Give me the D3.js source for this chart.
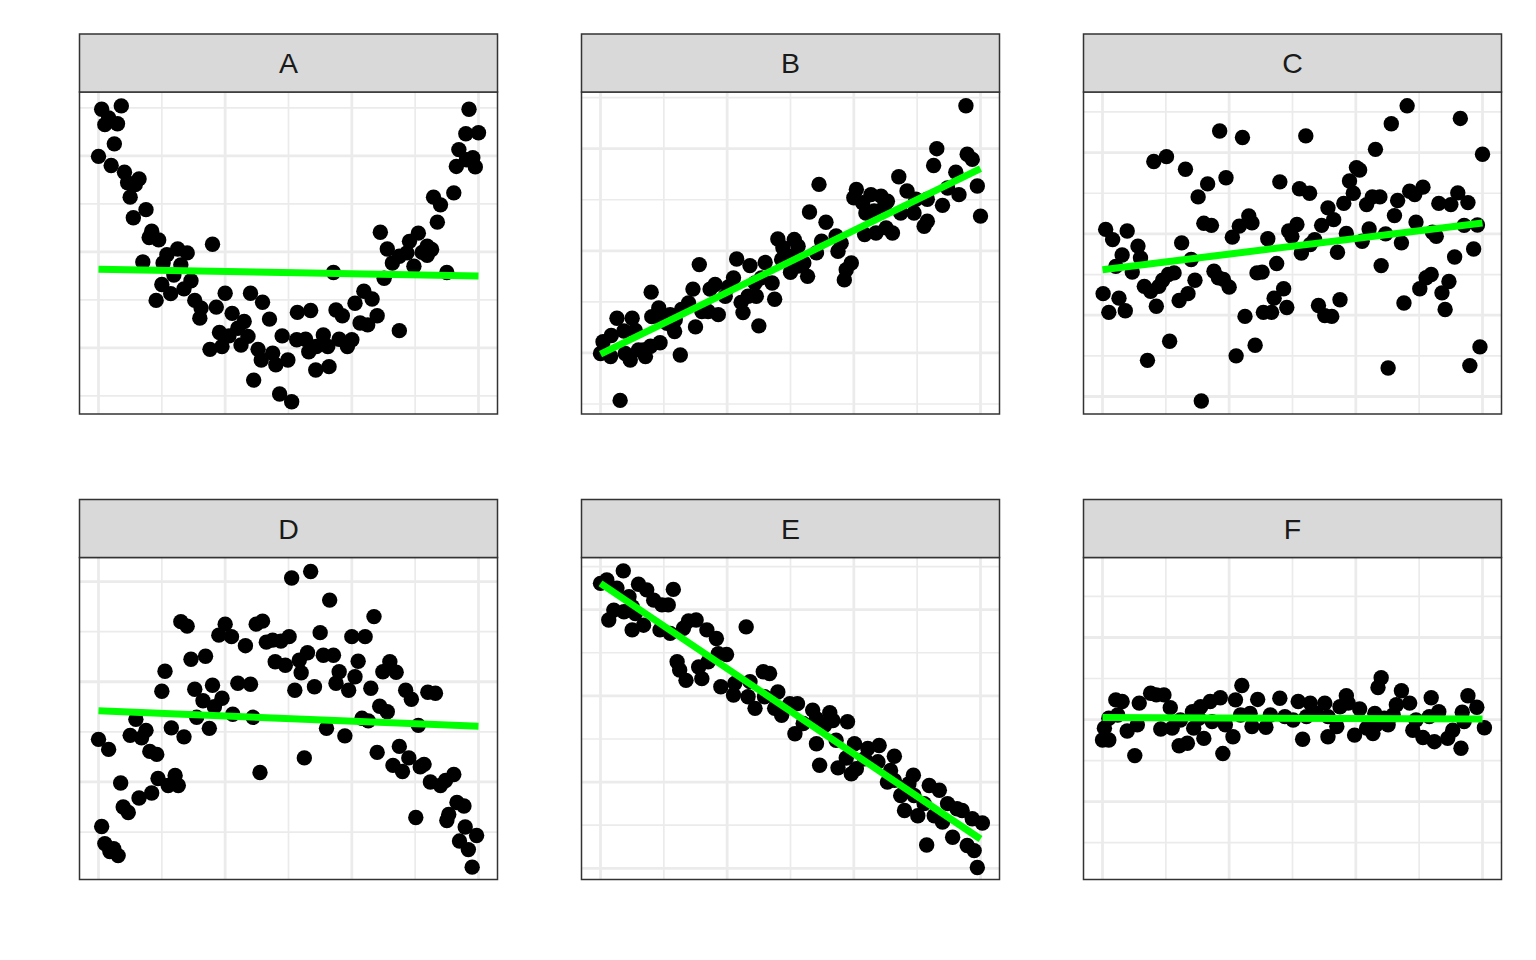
<!DOCTYPE html>
<html><head><meta charset="utf-8">
<script src="https://cdn.jsdelivr.net/npm/d3@7/dist/d3.min.js"></script>
<style>html,body{margin:0;padding:0;background:#fff}svg{display:block}</style>
</head><body>
<svg id="chart" width="1536" height="960"></svg>
<script>
// ---------- data ----------
const panelNames = ["A","B","C","D","E","F"];

const ptsA = [[0.05,5.97],[0.36,6.04],[0.16,5.79],[0.10,5.65],[0.30,5.67],[0.25,5.25],[0.00,4.99],[0.20,4.80],[0.41,4.66],[0.64,4.52],
[0.46,4.44],[0.58,4.40],[0.50,4.14],[0.75,3.88],[0.55,3.71],[0.84,3.43],[0.80,3.30],[0.95,3.25],[1.80,3.16],[1.25,3.06],
[1.40,2.98],[1.08,2.94],[0.70,2.79],[1.02,2.77],[1.30,2.73],[1.19,2.52],[1.46,2.40],[1.00,2.32],[1.35,2.23],[1.14,2.13],
[0.91,1.99],[1.52,1.99],[1.62,1.83],[1.86,1.85],[1.60,1.62],[2.00,2.14],[2.40,2.14],[2.59,1.95],[2.11,1.72],[2.30,1.55],
[2.70,1.60],[1.91,1.32],[2.20,1.41],[2.36,1.24],[2.06,1.25],[1.76,0.97],[1.95,1.03],[2.25,1.06],[2.52,0.97],[2.57,0.75],
[2.75,0.89],[2.90,1.25],[2.99,0.75],[2.80,0.65],[2.45,0.33],[2.86,0.04],[3.05,-0.12],[3.14,1.74],[3.35,1.78],[3.13,1.17],
[3.27,1.18],[3.32,0.92],[3.44,1.03],[3.43,0.54],[3.64,0.61],[3.55,1.27],[3.62,1.03],[3.75,1.79],[3.85,1.67],[3.80,1.18],
[3.93,1.03],[4.00,1.17],[3.71,2.57],[4.05,1.93],[4.19,2.18],[4.32,2.02],[4.40,1.67],[4.13,1.52],[4.25,1.48],[4.75,1.36],
[4.45,3.41],[4.56,3.06],[4.51,2.45],[4.64,2.77],[4.87,2.98],[4.91,3.22],[5.05,3.39],[4.98,2.70],[5.19,3.12],[5.26,3.05],
[5.19,2.93],[5.11,2.99],[5.50,2.57],[5.35,3.62],[5.40,3.98],[5.29,4.14],[5.61,4.23],[5.69,5.13],[5.65,4.78],[5.81,4.92],
[5.91,4.96],[5.95,4.77],[5.80,5.46],[6.00,5.48],[5.85,5.97],[4.75,2.91]];

const ptsB = [[5.77,5.84],[5.31,5.00],[5.26,4.67],[5.79,4.89],[5.87,4.79],[5.61,4.54],[5.48,4.23],[5.66,4.10],[5.95,4.27],[6.00,3.68],
[4.71,4.45],[4.84,4.17],[4.98,4.01],[5.40,3.89],[5.16,4.01],[4.74,3.74],[4.95,3.74],[5.11,3.48],[5.16,3.58],[4.61,3.35],
[4.43,4.07],[4.27,4.10],[4.04,4.20],[4.00,4.04],[4.14,3.94],[4.19,3.74],[4.32,3.78],[4.48,3.87],[4.53,3.97],[4.17,3.32],
[4.35,3.35],[4.51,3.45],[3.45,4.30],[3.30,3.76],[3.56,3.56],[3.72,3.29],[3.49,3.19],[3.80,3.15],[3.75,2.99],[3.41,2.96],
[3.96,2.76],[3.88,2.63],[3.85,2.43],[2.80,3.23],[3.06,3.22],[2.88,3.06],[3.12,3.09],[3.01,2.89],[3.21,2.76],[3.27,2.50],
[3.00,2.58],[2.86,2.83],[3.12,2.70],[2.60,2.77],[2.36,2.71],[2.15,2.84],[2.71,2.37],[2.54,2.47],[2.44,2.37],[2.75,2.05],
[2.33,2.11],[2.46,2.11],[2.22,1.99],[2.25,1.79],[2.50,1.53],[2.10,2.47],[2.02,2.29],[1.97,2.11],[1.81,2.34],[1.73,2.25],
[1.56,2.73],[1.46,2.25],[1.39,1.98],[1.60,1.81],[1.86,1.75],[1.70,1.81],[1.50,1.51],[1.28,1.85],[1.18,1.65],[0.92,1.88],
[0.81,1.71],[0.80,2.19],[0.97,1.65],[1.10,1.75],[1.17,1.42],[1.05,1.58],[0.50,1.68],[0.26,1.68],[0.37,1.43],[0.55,1.44],
[0.17,1.34],[0.04,1.22],[0.68,1.06],[0.79,1.13],[0.94,1.20],[0.60,1.06],[0.39,0.99],[0.00,0.99],[0.16,0.93],[0.47,0.86],
[0.71,0.93],[1.26,0.96],[0.31,0.07]];

const ptsC = [[4.81,7.15],[4.56,6.71],[5.65,6.84],[4.31,6.08],[6.00,5.96],[1.85,6.53],[2.21,6.37],[3.21,6.41],[0.81,5.78],[1.01,5.90],
[1.31,5.59],[1.66,5.23],[1.95,5.38],[1.51,4.91],[2.80,5.28],[3.11,5.11],[3.27,5.00],[4.01,5.63],[3.90,5.30],[3.96,5.00],
[4.06,5.57],[3.81,4.75],[3.56,4.64],[4.17,4.72],[4.26,4.91],[4.38,4.91],[4.66,4.82],[4.61,4.45],[4.85,5.05],[4.93,4.97],
[5.06,5.15],[5.31,4.75],[5.61,5.01],[5.50,4.72],[5.77,4.77],[4.95,4.29],[5.21,4.04],[5.27,3.94],[5.71,4.21],[5.92,4.22],
[5.86,3.63],[5.56,3.43],[4.47,4.00],[4.72,3.78],[4.21,4.12],[4.10,3.82],[3.85,4.01],[3.65,4.35],[3.46,4.21],[3.35,3.86],
[3.28,3.74],[3.71,3.55],[4.40,3.22],[3.14,3.53],[3.07,4.23],[2.94,4.07],[2.99,3.94],[2.31,4.44],[2.36,4.27],[2.16,4.19],
[2.05,3.92],[1.60,4.26],[1.72,4.21],[2.61,3.88],[2.75,3.27],[2.44,3.04],[2.52,3.06],[1.25,3.78],[1.40,3.37],[1.13,3.04],
[1.04,3.00],[1.76,3.08],[1.83,2.92],[1.91,2.88],[2.00,2.69],[1.46,2.86],[1.35,2.53],[1.21,2.36],[0.95,2.86],[0.89,2.71],
[0.76,2.59],[0.66,2.71],[0.85,2.22],[0.39,4.07],[0.05,4.11],[0.16,3.86],[0.56,3.70],[0.60,3.41],[0.31,3.48],[0.21,3.20],
[0.47,3.06],[0.01,2.53],[0.26,2.42],[0.10,2.07],[0.36,2.11],[2.86,2.65],[2.71,2.42],[2.91,2.19],[2.54,2.07],[2.67,2.07],
[2.25,1.97],[3.41,2.24],[3.51,1.99],[3.62,1.97],[3.75,2.38],[4.76,2.30],[5.01,2.65],[5.11,2.92],[5.19,3.00],[5.36,2.55],
[5.47,2.83],[5.41,2.14],[1.06,1.36],[0.71,0.89],[2.11,1.00],[2.41,1.26],[1.56,-0.11],[4.51,0.70],[5.96,1.22],[5.80,0.76]];

const ptsD = [[3.05,5.07],[3.35,5.20],[3.65,4.63],[4.35,4.30],[1.30,4.20],[1.40,4.11],[2.00,4.15],[1.90,3.93],[2.10,3.90],[2.49,4.15],
[2.59,4.21],[2.32,3.72],[2.65,3.79],[2.75,3.83],[2.88,3.81],[3.01,3.90],[3.50,3.98],[4.00,3.90],[4.21,3.90],[1.46,3.45],
[1.69,3.51],[1.05,3.21],[1.00,2.81],[2.79,3.40],[2.95,3.33],[3.17,3.43],[3.30,3.58],[3.55,3.53],[3.71,3.53],[4.10,3.41],
[3.20,3.18],[3.80,3.20],[4.05,3.10],[4.49,3.20],[4.60,3.40],[4.70,3.19],[1.52,2.85],[1.80,2.93],[1.65,2.62],[2.20,2.97],
[2.40,2.95],[3.10,2.83],[3.41,2.90],[3.75,2.97],[3.95,2.83],[4.30,2.87],[4.85,2.83],[4.94,2.65],[5.20,2.79],[5.32,2.77],
[1.95,2.67],[1.83,2.50],[2.12,2.35],[2.44,2.29],[1.55,2.29],[0.59,2.25],[0.75,2.03],[0.50,1.93],[0.68,1.88],[1.15,2.08],
[1.35,1.90],[1.75,2.07],[4.44,2.51],[4.56,2.40],[4.16,2.27],[4.26,2.22],[5.05,2.13],[3.60,2.07],[3.89,1.92],[0.00,1.85],
[0.16,1.65],[0.81,1.61],[0.92,1.55],[4.40,1.59],[4.75,1.71],[4.90,1.48],[4.65,1.33],[4.80,1.21],[3.25,1.48],[2.55,1.19],
[5.08,1.30],[5.14,1.35],[5.24,1.00],[5.40,0.93],[5.48,1.03],[5.61,1.15],[0.94,1.07],[1.10,0.93],[1.21,1.13],[1.26,0.93],
[0.35,0.98],[0.84,0.78],[0.64,0.68],[0.39,0.50],[0.47,0.39],[0.05,0.11],[0.10,-0.23],[0.24,-0.33],[0.18,-0.39],[0.31,-0.47],
[5.66,0.59],[5.77,0.52],[5.53,0.35],[5.50,0.23],[5.01,0.29],[5.79,0.10],[5.97,-0.07],[5.70,-0.18],[5.84,-0.35],[5.90,-0.70]];

const ptsE = [[0.36,6.90],[0.00,6.61],[0.10,6.69],[0.26,6.50],[0.60,6.59],[0.73,6.46],[1.15,6.47],[0.45,6.30],[0.21,5.99],[0.13,5.76],
[0.37,5.95],[0.50,6.07],[0.55,5.91],[0.84,6.22],[0.97,6.11],[1.07,6.11],[0.50,5.53],[0.68,5.64],[0.94,5.53],[1.10,5.45],
[1.39,5.74],[1.51,5.76],[1.68,5.53],[1.31,5.57],[2.30,5.60],[1.83,5.33],[1.99,4.96],[1.86,4.98],[1.70,4.79],[1.55,4.67],
[1.21,4.79],[1.25,4.60],[1.35,4.36],[1.60,4.40],[1.90,4.21],[2.10,4.02],[2.12,4.29],[2.36,4.33],[2.57,4.56],[2.67,4.52],
[2.33,3.98],[2.44,3.71],[2.59,3.98],[2.80,4.09],[2.75,3.71],[2.99,3.82],[3.11,3.82],[2.86,3.55],[3.07,3.12],[3.20,3.36],
[3.35,3.67],[3.41,3.47],[3.62,3.61],[3.67,3.43],[3.54,3.32],[3.90,3.40],[3.41,2.89],[3.72,2.97],[3.46,2.39],[3.75,2.33],
[3.88,2.56],[3.96,2.19],[4.04,2.31],[4.01,2.89],[4.22,2.78],[4.40,2.85],[4.17,2.54],[4.38,2.47],[4.64,2.60],[4.58,2.27],
[4.64,2.04],[4.94,2.16],[4.87,1.96],[4.74,1.69],[5.19,1.92],[5.35,1.81],[4.80,1.34],[5.01,1.22],[5.11,1.50],[5.40,1.07],
[5.48,1.50],[5.63,1.38],[5.71,1.34],[5.87,1.15],[6.03,1.05],[5.56,0.72],[5.79,0.53],[5.90,0.41],[5.95,0.02],[5.15,0.54],
[4.95,1.69],[5.27,1.22],[4.53,2.00]];

const ptsF = [[2.20,3.83],[4.35,3.78],[4.40,4.02],[4.72,3.70],[3.85,3.58],[5.19,3.53],[5.77,3.58],[5.91,3.30],[5.68,3.18],[5.31,3.19],
[5.16,3.07],[4.85,3.40],[4.64,3.36],[4.59,3.11],[4.45,3.03],[4.30,3.15],[4.06,3.26],[3.88,3.40],[3.75,3.31],[3.51,3.40],
[3.28,3.40],[3.09,3.44],[2.80,3.52],[2.45,3.49],[2.10,3.48],[1.86,3.53],[1.70,3.44],[1.55,3.31],[1.42,3.19],[1.07,3.29],
[0.97,3.60],[0.76,3.64],[0.85,3.60],[0.21,3.48],[0.31,3.44],[0.58,3.40],[0.24,3.11],[0.10,3.03],[0.03,2.79],[0.00,2.50],
[0.10,2.50],[0.39,2.72],[0.55,2.87],[0.92,2.77],[1.10,2.79],[1.23,2.99],[1.52,3.03],[1.73,2.95],[1.94,2.87],[2.18,3.11],
[2.36,2.83],[2.58,2.81],[2.88,3.07],[3.01,2.99],[3.22,3.07],[3.38,3.15],[3.56,3.07],[3.70,2.83],[3.56,2.58],[3.98,2.62],
[4.17,2.79],[4.32,2.87],[4.51,2.87],[4.90,2.74],[5.06,2.56],[5.24,2.46],[5.45,2.54],[5.71,2.95],[6.03,2.80],[5.66,2.30],
[3.16,2.52],[2.06,2.58],[1.60,2.54],[1.21,2.36],[1.34,2.42],[0.51,2.12],[1.90,2.17],[1.44,2.79],[2.65,3.11],[2.33,3.15],
[4.95,2.99],[4.27,2.66],[5.53,2.74]];

// linear fit: y at x = 0 and at x = 6
const fitX = [0, 6];
const fitY = [[2.64,2.50],[0.975,4.61],[3.12,4.27],[2.42,2.11],[6.61,0.68],[3.05,3.01]];

// axis limits and grid breaks
const xLimits = [-0.3, 6.3];
const xMajorBreaks = [0, 2, 4, 6];
const xMinorBreaks = [1, 3, 5];
const yLimits = [[-0.376,6.33],[-0.196,6.11],[-0.43,7.49],[-0.947,5.48],[-0.26,7.21],[-0.90,6.95]];
const yMajorBreaks = [[1,3,5],[1,3,5],[0,2,4,6],[1,3,5],[0,2,4,6],[1,3,5]];

// ---------- layout ----------
const allPts = [ptsA, ptsB, ptsC, ptsD, ptsE, ptsF];
const colLeft = [79.5, 581.5, 1083.5];
const stripTop = [34, 499.5];
const panelW = 418, stripH = 58, panelH = 322;

const svg = d3.select("#chart");
svg.append("rect").attr("width",1536).attr("height",960).attr("fill","#ffffff");
const defs = svg.append("defs");

panelNames.forEach((name, i) => {
  const col = i % 3, row = Math.floor(i / 3);
  const x0 = colLeft[col], sTop = stripTop[row], pTop = sTop + stripH;
  const x = d3.scaleLinear().domain(xLimits).range([x0, x0 + panelW]);
  const y = d3.scaleLinear().domain(yLimits[i]).range([pTop + panelH, pTop]);

  const g = svg.append("g");
  defs.append("clipPath").attr("id","clip"+i).append("rect")
    .attr("x",x0).attr("y",pTop).attr("width",panelW).attr("height",panelH);

  g.append("rect").attr("x",x0).attr("y",pTop).attr("width",panelW).attr("height",panelH).attr("fill","#ffffff");

  const grid = g.append("g").attr("clip-path","url(#clip"+i+")");
  const [ylo, yhi] = yLimits[i];
  const yMinor = d3.range(Math.ceil(ylo), Math.floor(yhi) + 1).filter(v => !yMajorBreaks[i].includes(v));
  // minor grid
  grid.selectAll(".vmin").data(xMinorBreaks).join("line")
    .attr("x1",d=>x(d)).attr("x2",d=>x(d)).attr("y1",pTop).attr("y2",pTop+panelH)
    .attr("stroke","#ebebeb").attr("stroke-width",1.7);
  grid.selectAll(".hmin").data(yMinor).join("line")
    .attr("y1",d=>y(d)).attr("y2",d=>y(d)).attr("x1",x0).attr("x2",x0+panelW)
    .attr("stroke","#ebebeb").attr("stroke-width",1.7);
  // major grid
  grid.selectAll(".vmaj").data(xMajorBreaks).join("line")
    .attr("x1",d=>x(d)).attr("x2",d=>x(d)).attr("y1",pTop).attr("y2",pTop+panelH)
    .attr("stroke","#ebebeb").attr("stroke-width",2.8);
  grid.selectAll(".hmaj").data(yMajorBreaks[i]).join("line")
    .attr("y1",d=>y(d)).attr("y2",d=>y(d)).attr("x1",x0).attr("x2",x0+panelW)
    .attr("stroke","#ebebeb").attr("stroke-width",2.8);

  const marks = g.append("g").attr("clip-path","url(#clip"+i+")");
  marks.selectAll("circle").data(allPts[i]).join("circle")
    .attr("cx",d=>x(d[0])).attr("cy",d=>y(d[1])).attr("r",7.7).attr("fill","#000000");

  const fitData = fitX.map((fx, k) => [fx, fitY[i][k]]);
  marks.append("path").datum(fitData)
    .attr("d", d3.line().x(d=>x(d[0])).y(d=>y(d[1])))
    .attr("fill","none").attr("stroke","#00ff00").attr("stroke-width",7);

  // panel border
  g.append("rect").attr("x",x0).attr("y",pTop).attr("width",panelW).attr("height",panelH)
    .attr("fill","none").attr("stroke","#333333").attr("stroke-width",1.5);

  // strip
  g.append("rect").attr("x",x0).attr("y",sTop).attr("width",panelW).attr("height",stripH)
    .attr("fill","#d9d9d9").attr("stroke","#333333").attr("stroke-width",1.5);
  g.append("text").attr("x",x0 + panelW/2).attr("y",sTop + 39.3)
    .attr("text-anchor","middle")
    .attr("font-family","'Liberation Sans', Arial, Helvetica, sans-serif")
    .attr("font-size",28.5).attr("fill","#1a1a1a").text(name);
});
</script>
</body></html>
